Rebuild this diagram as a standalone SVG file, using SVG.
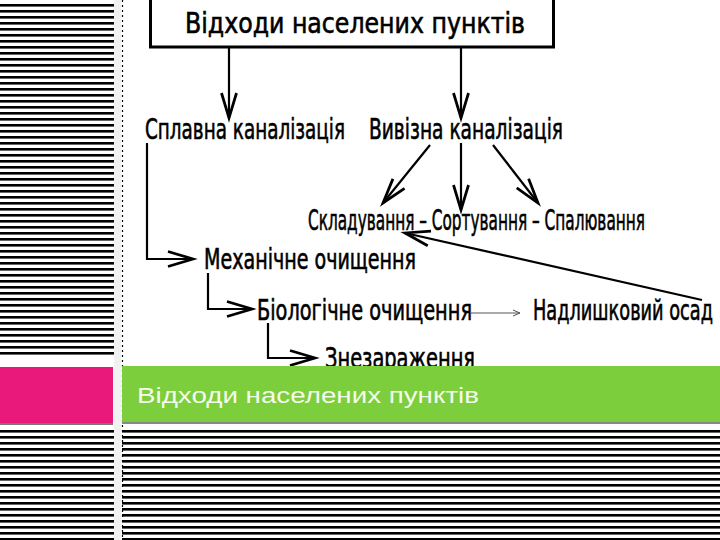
<svg xmlns="http://www.w3.org/2000/svg" width="720" height="540" viewBox="0 0 720 540">
<defs>
<pattern id="stripes" x="0" y="4" width="8" height="6" patternUnits="userSpaceOnUse">
<rect x="0" y="0" width="8" height="2.6" fill="#000"/>
</pattern>
<marker id="ah" markerUnits="userSpaceOnUse" markerWidth="30" markerHeight="20" viewBox="-22 -8 24 16" refX="0" refY="0" orient="auto" overflow="visible">
<path d="M-20,-6 L0,0 L-20,6" fill="none" stroke="#000" stroke-width="2.2"/>
</marker>
<marker id="ahs" markerUnits="userSpaceOnUse" markerWidth="12" markerHeight="8" viewBox="-8 -4 10 8" refX="0" refY="0" orient="auto" overflow="visible">
<path d="M-7,-3 L0,0 L-7,3" fill="none" stroke="#555" stroke-width="1"/>
</marker>
<style>
.lbl{font-family:"DejaVu Sans Condensed","DejaVu Sans","Liberation Sans Narrow",sans-serif;font-size:29px;fill:#000;stroke:#000;stroke-width:0.6}
.ln{fill:none;stroke:#000;stroke-width:2.2}
</style>
</defs>
<rect width="720" height="540" fill="#fff"/>
<!-- striped background areas -->
<rect x="0" y="4" width="114" height="352" fill="url(#stripes)"/>
<rect x="0" y="428" width="114" height="112" fill="url(#stripes)"/>
<rect x="122" y="428" width="598" height="112" fill="url(#stripes)"/>
<rect x="114" y="0" width="7" height="540" fill="#f1f1f1"/>
<line x1="122.5" y1="0" x2="122.5" y2="540" stroke="#000" stroke-width="1.2" stroke-dasharray="2,3"/>

<g id="node-title">
<rect x="150.5" y="-10" width="403" height="57" fill="#fff" stroke="#000" stroke-width="3"/>
<text class="lbl" x="185" y="33" textLength="340" lengthAdjust="spacingAndGlyphs">Відходи населених пунктів</text>
</g>
<g id="node-splavna"><text class="lbl" x="145" y="139" textLength="200" lengthAdjust="spacingAndGlyphs">Сплавна каналізація</text></g>
<g id="node-vyvizna"><text class="lbl" x="369" y="139" textLength="194" lengthAdjust="spacingAndGlyphs">Вивізна каналізація</text></g>
<g id="node-skladuvannya"><text class="lbl" x="308" y="230" textLength="337" lengthAdjust="spacingAndGlyphs">Складування – Сортування – Спалювання</text></g>
<g id="node-mekhanichne"><text class="lbl" x="204" y="269" textLength="212" lengthAdjust="spacingAndGlyphs">Механічне очищення</text></g>
<g id="node-biologichne"><text class="lbl" x="257" y="320" textLength="215" lengthAdjust="spacingAndGlyphs">Біологічне очищення</text></g>
<g id="node-osad"><text class="lbl" x="533" y="320" textLength="180" lengthAdjust="spacingAndGlyphs">Надлишковий осад</text></g>
<g id="node-zneza"><text class="lbl" x="325" y="368" textLength="150" lengthAdjust="spacingAndGlyphs">Знезараження</text></g>

<g id="connectors">
<line class="ln" x1="229" y1="47" x2="229" y2="118" marker-end="url(#ah)"/>
<line class="ln" x1="461" y1="47" x2="461" y2="118" marker-end="url(#ah)"/>
<line class="ln" x1="430" y1="145" x2="383" y2="203" marker-end="url(#ah)"/>
<line class="ln" x1="461" y1="143" x2="461" y2="210" marker-end="url(#ah)"/>
<line class="ln" x1="493" y1="145" x2="538" y2="203" marker-end="url(#ah)"/>
<path class="ln" d="M147,143 L147,259 L193,259" marker-end="url(#ah)"/>
<path class="ln" d="M208,273 L208,309 L252,309" marker-end="url(#ah)"/>
<path class="ln" d="M268,323 L268,358 L315,358" marker-end="url(#ah)"/>
<line class="ln" x1="702" y1="300" x2="405" y2="233" marker-end="url(#ah)"/>
<line x1="470" y1="313" x2="520" y2="313" stroke="#555" stroke-width="1" marker-end="url(#ahs)"/>
</g>

<!-- title bar -->
<rect x="0" y="367" width="113" height="57" fill="#E8197B"/>
<rect x="0" y="423" width="113" height="2" fill="#777"/>
<rect x="122" y="366" width="598" height="56" fill="#7CCE3D"/>
<rect x="122" y="422" width="598" height="2" fill="#888"/>
<text x="137" y="403" font-family="'Liberation Sans',Arial,sans-serif" font-size="22" fill="#F5FBEA" textLength="342" lengthAdjust="spacingAndGlyphs">Відходи населених пунктів</text>
</svg>
